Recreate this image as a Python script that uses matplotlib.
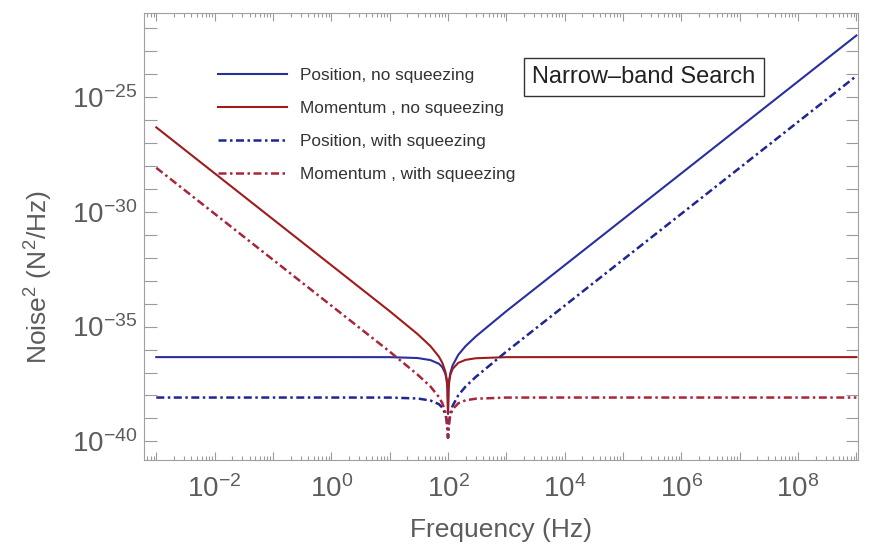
import numpy as np
import matplotlib
matplotlib.use("Agg")
import matplotlib.pyplot as plt
from matplotlib.ticker import FixedLocator, LogLocator, FuncFormatter, NullFormatter

plt.rcParams['font.family'] = ['Liberation Sans', 'DejaVu Sans']
plt.rcParams['mathtext.fontset'] = 'custom'
plt.rcParams['mathtext.rm'] = 'Liberation Sans'
plt.rcParams['mathtext.it'] = 'Liberation Sans:italic'
plt.rcParams['mathtext.bf'] = 'Liberation Sans:bold'

freq = [1e-3, 1e0, 1e1, 30, 50, 70, 80, 90, 95, 98, 100,
        102, 105, 110, 120, 150, 200, 300, 1e3, 1e4, 1e9]

# ruido^2 (N^2/Hz)
pos_no_sq = [4.68e-37, 4.68e-37, 4.66e-37, 4.27e-37, 3.47e-37, 2.40e-37, 1.70e-37,
             8.91e-38, 4.57e-38, 1.86e-38, 1.6e-39,
             1.91e-38, 4.79e-38, 9.77e-38, 2.04e-37, 5.89e-37, 1.41e-36, 3.72e-36,
             4.68e-35, 4.68e-33, 4.68e-23]
mom_no_sq = [4.68e-27, 4.68e-33, 4.68e-35, 4.73e-36, 1.41e-36, 4.87e-37, 2.63e-37,
             1.10e-37, 5.01e-38, 1.91e-38, 1.6e-39,
             1.82e-38, 4.37e-38, 8.13e-38, 1.44e-37, 2.63e-37, 3.55e-37, 4.17e-37,
             4.66e-37, 4.68e-37, 4.68e-37]
pos_sq = [8.13e-39, 8.13e-39, 8.10e-39, 7.41e-39, 6.03e-39, 4.17e-39, 2.95e-39,
          1.55e-39, 7.94e-40, 3.24e-40, 1.45e-40,
          3.31e-40, 8.32e-40, 1.70e-39, 3.55e-39, 1.02e-38, 2.45e-38, 6.46e-38,
          8.13e-37, 8.13e-35, 8.13e-25]
mom_sq = [8.13e-29, 8.13e-35, 8.13e-37, 8.13e-38, 2.45e-38, 8.51e-39, 4.57e-39,
          1.91e-39, 8.71e-40, 3.31e-40, 1.45e-40,
          3.16e-40, 7.59e-40, 1.41e-39, 2.51e-39, 4.57e-39, 6.17e-39, 7.24e-39,
          8.10e-39, 8.13e-39, 8.13e-39]

labels = ['Position, no squeezing', 'Momentum , no squeezing',
          'Position, with squeezing', 'Momentum , with squeezing']

azul = '#2a2f9e'
rojo = '#9e1c1c'
azul_sq = '#1f278f'
rojo_sq = '#a8263a'
punto_raya = (0, (3.2, 1.4, 1.0, 1.4))
gris = '#5c5c5c'

fig = plt.figure(figsize=(8.73, 5.5), dpi=100)
ax = fig.add_axes([0.165, 0.164, 0.818, 0.812])

ax.plot(freq, pos_no_sq, color=azul, lw=1.5, label=labels[0])
ax.plot(freq, mom_no_sq, color=rojo, lw=1.5, label=labels[1])
ax.plot(freq, pos_sq, color=azul_sq, lw=1.8, linestyle=punto_raya, label=labels[2])
ax.plot(freq, mom_sq, color=rojo_sq, lw=1.8, linestyle=punto_raya, label=labels[3])

ax.set_xscale('log')
ax.set_yscale('log')
ax.set_xlim(10**-3.21, 10**9.03)
ax.set_ylim(10**-40.8, 10**-21.36)

# ejes estilo Mathematica
ax.xaxis.set_major_locator(FixedLocator(10.0 ** np.arange(-3, 10)))
ax.xaxis.set_minor_locator(LogLocator(base=10, subs=np.arange(2, 10), numticks=200))
ax.xaxis.set_minor_formatter(NullFormatter())
ax.xaxis.set_major_formatter(FuncFormatter(
    lambda v, p: r'$10^{%d}$' % round(np.log10(v)) if round(np.log10(v)) % 2 == 0 else ''))

ax.yaxis.set_major_locator(FixedLocator(10.0 ** np.arange(-41, -21)))
ax.yaxis.set_minor_locator(FixedLocator([]))
ax.yaxis.set_major_formatter(FuncFormatter(
    lambda v, p: r'$10^{%d}$' % round(np.log10(v)) if round(np.log10(v)) % 5 == 0 else ''))

ax.tick_params(which='both', direction='in', top=True, right=True, colors='#9a9a9a',
               labelcolor=gris, labelsize=20, width=0.8)
ax.tick_params(axis='x', which='major', length=6, pad=11)
ax.tick_params(axis='x', which='minor', length=3)
ax.tick_params(axis='y', which='major', length=9, pad=5)
for s in ax.spines.values():
    s.set_color('#a0a0a0')
    s.set_linewidth(0.8)

ax.set_xlabel('Frequency (Hz)', fontsize=19, color=gris, labelpad=11)
ax.set_ylabel(r'Noise$^2$ (N$^2$/Hz)', fontsize=19, color=gris)
ax.yaxis.set_label_coords(-0.124, 0.41)

leg = ax.legend(loc='upper left', bbox_to_anchor=(0.104, 0.878), frameon=False,
                fontsize=12.4, handlelength=4.0, handletextpad=0.75,
                labelspacing=1.05, borderpad=0, borderaxespad=0)
for t in leg.get_texts():
    t.set_color('#333333')

ax.text(0.70, 0.857, 'Narrow\u2013band Search', transform=ax.transAxes,
        fontsize=17, color='#222222', ha='center', va='center',
        bbox=dict(boxstyle='square,pad=0.35', fc='white', ec='#333333', lw=1.0))

fig.savefig('out.png', dpi=100)
